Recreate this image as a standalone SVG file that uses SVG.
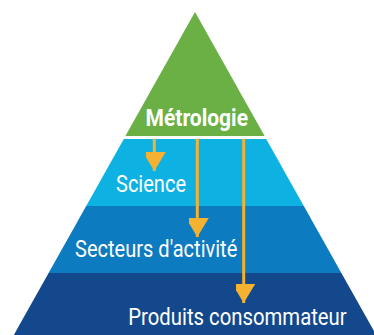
<svg xmlns="http://www.w3.org/2000/svg" width="374" height="335" viewBox="0 0 374 335">
<style>
.lbl{font-family:Roboto,"Liberation Sans",sans-serif;fill:#fff;}
.arr{stroke:#F5B130;stroke-width:3;fill:none;}
</style>
<defs>
<marker id="head" markerUnits="userSpaceOnUse" markerWidth="24" markerHeight="20" viewBox="0 0 24 20" refX="19" refY="12" orient="auto">
<path d="M0,0.5 L19,12 L0,23.5 Z" fill="#F5B130"/>
</marker>
</defs>
<rect width="374" height="335" fill="#fff"/>
<g id="metrologie">
<polygon points="195,12 264.6,136 125.4,136" fill="#6AB045"/>
<text class="lbl" x="145.5" y="125.5" font-size="23" font-weight="bold" textLength="102.5" lengthAdjust="spacingAndGlyphs">Métrologie</text>
</g>
<g id="science">
<polygon points="123.8,139 266.2,139 303.8,206 86.2,206" fill="#0DB2E3"/>
<text class="lbl" x="116" y="191.5" font-size="23" textLength="70" lengthAdjust="spacingAndGlyphs">Science</text>
</g>
<g id="secteurs">
<polygon points="86.2,206 303.8,206 341.4,273 48.6,273" fill="#0C7BC0"/>
<text class="lbl" x="75" y="257.3" font-size="23" textLength="162.3" lengthAdjust="spacingAndGlyphs">Secteurs d'activité</text>
</g>
<g id="produits">
<polygon points="48.6,273 341.4,273 376.2,335 13.8,335" fill="#14488C"/>
<text class="lbl" x="128.3" y="325" font-size="23" textLength="218.4" lengthAdjust="spacingAndGlyphs">Produits consommateur</text>
</g>
<g id="connectors">
<line class="arr" x1="154.3" y1="139" x2="154.3" y2="171" marker-end="url(#head)"/>
<line class="arr" x1="197.3" y1="139" x2="197.3" y2="237" marker-end="url(#head)"/>
<line class="arr" x1="243.7" y1="139" x2="243.7" y2="303" marker-end="url(#head)"/>
</g>
</svg>
